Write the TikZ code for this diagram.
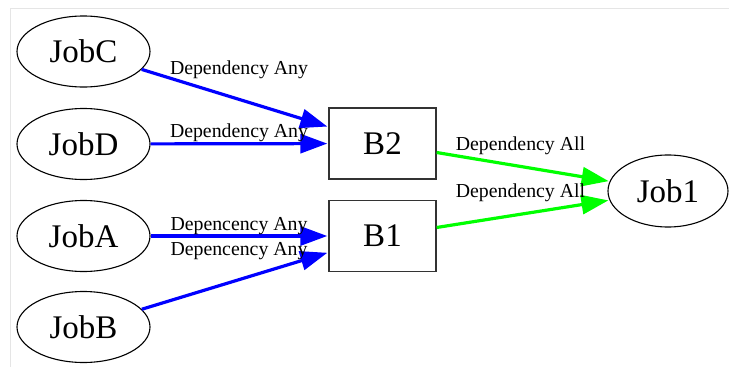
\documentclass[tikz,border=0pt]{standalone}
\usepackage{fontspec}
\setmainfont{Liberation Serif}
\usetikzlibrary{shapes.geometric,arrows.meta}
\definecolor{gvblue}{RGB}{0,0,255}
\definecolor{gvgreen}{RGB}{0,255,0}
\begin{document}
\begin{tikzpicture}[x=1pt,y=-1pt,
  job/.style={ellipse,draw,line width=1.1pt,minimum width=133pt,minimum height=71pt,inner sep=0pt,font=\fontsize{33}{36}\selectfont},
  box/.style={rectangle,draw=black!80,line width=1.4pt,minimum width=107pt,minimum height=71pt,inner sep=0pt,font=\fontsize{33}{36}\selectfont},
  lbl/.style={font=\fontsize{19.8}{22}\selectfont,inner sep=0pt,text=black},
  anyedge/.style={draw=gvblue,line width=3.2pt,-{Triangle[length=27pt,width=19pt]},shorten >=1pt},
  alledge/.style={draw=gvgreen,line width=3.2pt,-{Triangle[length=27pt,width=19pt]},shorten >=1pt}
]
\useasboundingbox (0,0) rectangle (729,367);
\draw[black!10, line width=0.8pt] (729,8.5) -- (10.5,8.5) -- (10.5,367);

\node[job] (jc) at (83.5,51.5) {JobC};
\node[job] (jd) at (83.5,144) {JobD};
\node[job] (ja) at (83.5,236) {JobA};
\node[job] (jb) at (83.5,327) {JobB};
\node[box] (b2) at (382.5,143.5) {B2};
\node[box] (b1) at (382.5,236) {B1};
\node[job,minimum width=120pt,minimum height=72pt] (j1) at (668,191) {Job1};

\draw[anyedge] (jc) -- (b2);
\draw[anyedge] (jd) -- (b2);
\draw[anyedge] (ja) -- (b1);
\draw[anyedge] (jb) -- (b1);
\draw[alledge] (b2) -- (j1);
\draw[alledge] (b1) -- (j1);

\node[lbl] (lc) at (239,69.5) {Dependency Any};
\node[lbl] (ld) at (239,133) {Dependency Any};
\node[lbl] (la) at (239,225.7) {Depencency Any};
\node[lbl] (lb) at (239,250.7) {Depencency Any};
\node[lbl] (l2) at (520.5,146) {Dependency All};
\node[lbl] (l1) at (520.5,193) {Dependency All};
\end{tikzpicture}
\end{document}
